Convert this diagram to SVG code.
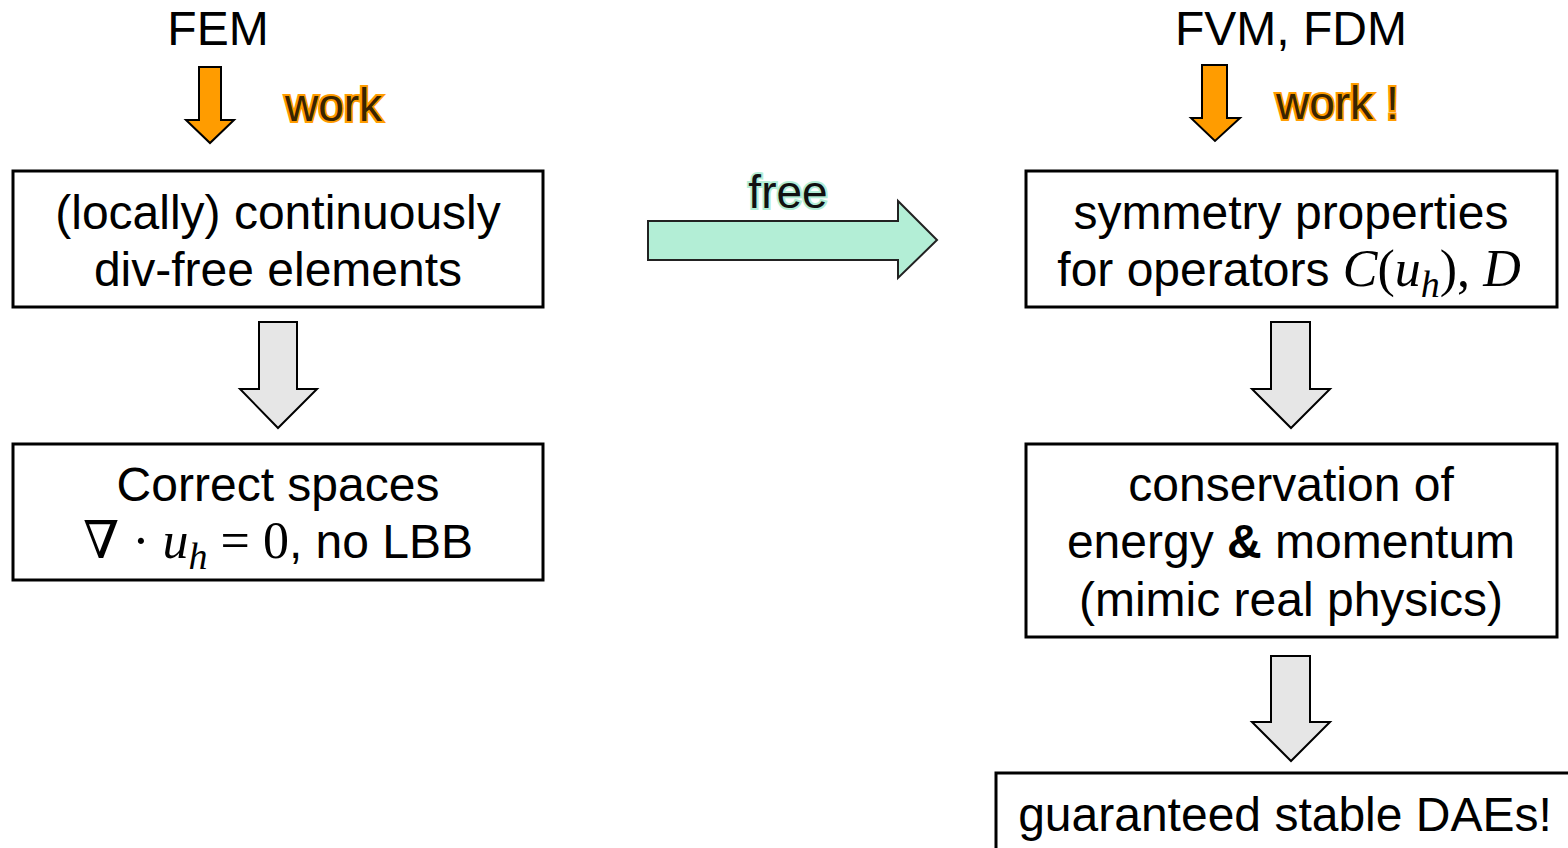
<svg xmlns="http://www.w3.org/2000/svg" width="1568" height="848" viewBox="0 0 1568 848">
<style>
.t{font-family:"Liberation Sans",Arial,sans-serif;font-size:48px;fill:#000;text-anchor:middle}
.m{font-family:"Liberation Serif","DejaVu Serif",serif;font-style:italic;font-size:52px}
.r{font-family:"Liberation Serif","DejaVu Serif",serif;font-style:normal;font-size:52px}
.box{fill:#fff;stroke:#000;stroke-width:3}
.garrow{fill:#e6e6e6;stroke:#000;stroke-width:2}
.oarrow{fill:#ff9c00;stroke:#000;stroke-width:2}
.ow{font-family:"Liberation Sans",Arial,sans-serif;font-size:46px;fill:#3a2400;stroke:#ff9c00;stroke-width:4;paint-order:stroke}
</style>
<rect width="1568" height="848" fill="#fff"/>
<g id="label-fem"><text class="t" x="218" y="45">FEM</text></g>
<g id="label-fvm"><text class="t" x="1291" y="45">FVM, FDM</text></g>
<g id="connectors">
<path id="o1" class="oarrow" d="M199,67 H221 V120 H234 L210,143 L186,120 H199 Z"/>
<path id="o2" class="oarrow" d="M1202,65 H1227 V118 H1240 L1215,141 L1191,118 H1202 Z"/>
<text class="ow" x="285" y="121">work</text>
<text class="ow" x="1276" y="119">work !</text>
<path id="free" d="M648,221 H898 V201 L937,240 L898,278 V260 H648 Z" fill="#b3eed6" stroke="#222" stroke-width="2"/>
<text x="788" y="208" font-family="Liberation Sans,Arial,sans-serif" font-size="46" text-anchor="middle" fill="#111" stroke="#b3eed6" stroke-width="4" paint-order="stroke">free</text>
<path id="g1" class="garrow" d="M259,322 H297 V389 H317 L278,428 L240,389 H259 Z"/>
<path id="g2" class="garrow" d="M1271,322 H1310 V389 H1330 L1291,428 L1252,389 H1271 Z"/>
<path id="g3" class="garrow" d="M1271,656 H1310 V722 H1330 L1291,761 L1252,722 H1271 Z"/>
</g>
<g id="node-div-free">
<rect class="box" x="13" y="171" width="530" height="136"/>
<text class="t" x="278" y="229">(locally) continuously</text>
<text class="t" x="278" y="286">div-free elements</text>
</g>
<g id="node-correct-spaces">
<rect class="box" x="13" y="444" width="530" height="136"/>
<text class="t" x="278" y="501">Correct spaces</text>
<text class="t" x="278" y="558"><tspan class="r">∇ · </tspan><tspan class="m">u</tspan><tspan class="m" style="font-size:38px" dy="11">h</tspan><tspan class="r" dy="-11"> = 0</tspan>, no LBB</text>
</g>
<g id="node-symmetry">
<rect class="box" x="1026" y="171" width="531" height="136"/>
<text class="t" x="1291" y="229">symmetry properties</text>
<text class="t" x="1289" y="286">for operators <tspan class="m">C</tspan><tspan class="r">(</tspan><tspan class="m">u</tspan><tspan class="m" style="font-size:38px" dy="11">h</tspan><tspan class="r" dy="-11">), </tspan><tspan class="m">D</tspan></text>
</g>
<g id="node-conservation">
<rect class="box" x="1026" y="444" width="531" height="193"/>
<text class="t" x="1291" y="501">conservation of</text>
<text class="t" x="1291" y="558">energy <tspan font-weight="bold">&amp;</tspan> momentum</text>
<text class="t" x="1291" y="616">(mimic real physics)</text>
</g>
<g id="node-stable">
<rect class="box" x="996" y="773" width="600" height="100"/>
<text class="t" x="1285" y="831">guaranteed stable DAEs!</text>
</g>
</svg>
